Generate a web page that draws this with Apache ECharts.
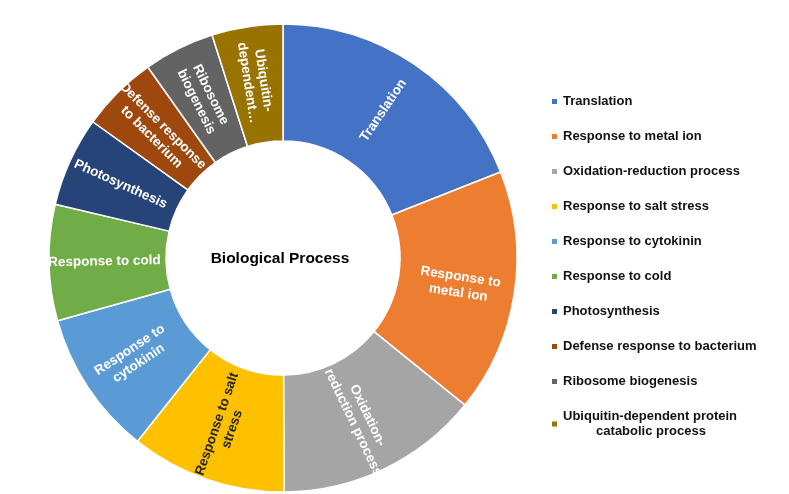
<!DOCTYPE html>
<html>
<head>
<meta charset="utf-8">
<script src="https://cdn.jsdelivr.net/npm/echarts@6/dist/echarts.min.js"></script>
<style>
	html, body { margin: 0; padding: 0; background: #fff; }
	#main { width: 789px; height: 494px; }
</style>
</head>
<body>
<div id="main"></div>
<script>
	// categories (legend order = slice order, clockwise from top)
	const categories = [
		'Translation',
		'Response to metal ion',
		'Oxidation-reduction process',
		'Response to salt stress',
		'Response to cytokinin',
		'Response to cold',
		'Photosynthesis',
		'Defense response to bacterium',
		'Ribosome biogenesis',
		'Ubiquitin-dependent protein catabolic process'
	]
	// share of each slice (%)
	const values = [19.0, 16.8, 14.1, 10.75, 10.0, 8.0, 6.2, 5.3, 4.9, 4.9]
	// text written on the slices
	const sliceLabels = [
		'Translation',
		'Response to\nmetal ion',
		'Oxidation-\nreduction process',
		'Response to salt\nstress',
		'Response to\ncytokinin',
		'Response to cold',
		'Photosynthesis',
		'Defense response\nto bacterium',
		'Ribosome\nbiogenesis',
		'Ubiquitin-\ndependent…'
	]
	const colors = ['#4472C4', '#ED7D31', '#A5A5A5', '#FFC000', '#5B9BD5',
		'#70AD47', '#264478', '#9E480E', '#636363', '#997300']

	const myChart = echarts.init(document.getElementById('main'))
	const option = {
		color: colors,
		textStyle: {
			fontFamily: 'Liberation Sans'
		},
		title: {
			text: 'Biological Process',
			left: 275,
			top: 246,
			textAlign: 'center',
			textStyle: {
				fontSize: 15.5,
				fontWeight: 'bold',
				color: '#000',
				fontFamily: 'Liberation Sans'
			}
		},
		legend: {
			orient: 'vertical',
			left: 545,
			top: 89,
			itemWidth: 7,
			itemHeight: 7,
			itemGap: 20,
			icon: 'rect',
			data: categories,
			formatter: function (name) {
				if (name === categories[9]) {
					return 'Ubiquitin-dependent protein\n{c|catabolic process}'
				}
				return name
			},
			textStyle: {
				fontSize: 13,
				fontWeight: 'bold',
				color: '#111',
				fontFamily: 'Liberation Sans',
				lineHeight: 15,
				rich: {
					c: {
						width: 176,
						align: 'center',
						fontSize: 13,
						fontWeight: 'bold',
						color: '#111',
						fontFamily: 'Liberation Sans',
						lineHeight: 15
					}
				}
			}
		},
		series: [{
			name: 'Biological Process',
			type: 'pie',
			center: [283, 258],
			radius: [117, 234],
			startAngle: 90,
			clockwise: true,
			avoidLabelOverlap: false,
			itemStyle: {
				borderColor: '#fff',
				borderWidth: 1.5
			},
			label: {
				show: true,
				position: 'inside',
				rotate: 'radial',
				color: '#fff',
				fontSize: 13.5,
				fontWeight: 'bold',
				fontFamily: 'Liberation Sans',
				lineHeight: 16,
				formatter: function (p) {
					return sliceLabels[p.dataIndex]
				}
			},
			labelLine: { show: false },
			emphasis: { scale: false },
			data: categories.map(function (name, i) {
				const d = { name: name, value: values[i] }
				if (i === 3) {
					d.label = { color: '#262626' }
				}
				return d
			})
		}]
	}
	myChart.setOption(option)
</script>
</body>
</html>
